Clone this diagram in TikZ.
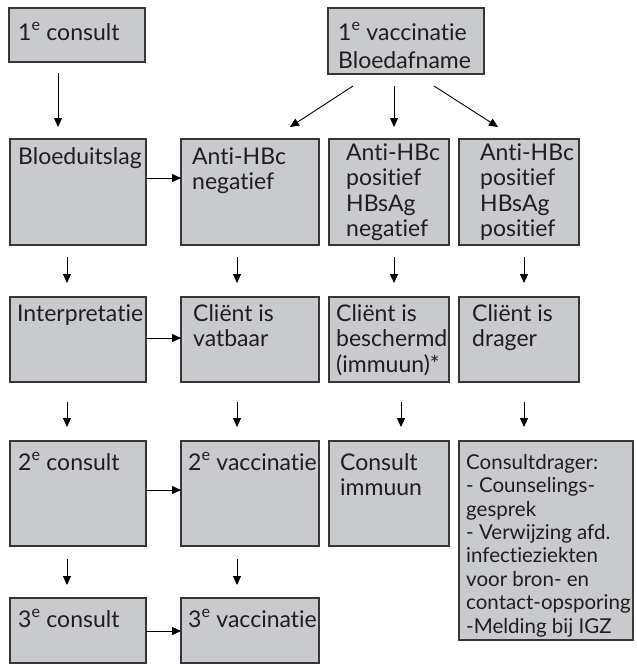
\documentclass[tikz,border=0pt]{standalone}
\usepackage{fontspec}
\setmainfont{Lato}[Ligatures={NoCommon,NoRare,NoContextual}]
\usetikzlibrary{arrows.meta,calc}
\definecolor{boxfill}{RGB}{200,202,206}
\definecolor{boxline}{RGB}{55,55,55}
\definecolor{txt}{RGB}{30,30,30}
\begin{document}
\begin{tikzpicture}[x=1pt,y=-1pt,
  box/.style={draw=boxline, fill=boxfill, line width=1.1pt, inner sep=0pt, outer sep=0pt, anchor=north west},
  lbl/.style={anchor=base west, inner sep=0pt, align=left, text=txt, font=\fontsize{23}{25.5}\selectfont},
  lbltop/.style={lbl, font=\fontsize{23}{28}\selectfont},
  lblsmall/.style={lbl, font=\fontsize{20.5}{23.4}\selectfont},
  arr/.style={-{Triangle[length=9pt,width=8pt]}, line width=0.9pt, black}]
\useasboundingbox (0,0) rectangle (637,664);

% boxes
\node[box, minimum width=136pt, minimum height=54pt]  (c1) at (9,8) {};
\node[box, minimum width=156pt, minimum height=66pt]  (v1) at (328,8) {};
\node[box, minimum width=136pt, minimum height=106pt] (b1) at (10,139) {};
\node[box, minimum width=138pt, minimum height=106pt] (b2) at (181,139) {};
\node[box, minimum width=120pt, minimum height=106pt] (b3) at (329,139) {};
\node[box, minimum width=120pt, minimum height=106pt] (b4) at (459,139) {};
\node[box, minimum width=136pt, minimum height=85pt]  (i1) at (10,297) {};
\node[box, minimum width=138pt, minimum height=85pt]  (i2) at (181,297) {};
\node[box, minimum width=120pt, minimum height=85pt]  (i3) at (329,297) {};
\node[box, minimum width=120pt, minimum height=85pt]  (i4) at (459,297) {};
\node[box, minimum width=136pt, minimum height=105pt] (k1) at (10,441) {};
\node[box, minimum width=138pt, minimum height=105pt] (k2) at (181,441) {};
\node[box, minimum width=120pt, minimum height=105pt] (k3) at (329,441) {};
\node[box, minimum width=174pt, minimum height=199pt] (k4) at (459,441) {};
\node[box, minimum width=136pt, minimum height=65pt]  (m1) at (10,598) {};
\node[box, minimum width=138pt, minimum height=65pt]  (m2) at (181,598) {};

% texts (anchored at the baseline of their last line)
\node[lbl] (tc1) at (18,40) {1\textsuperscript{e} consult};
\node[lbltop] (tv1) at (338,68) {1\textsuperscript{e} vaccinatie\\Bloedafname};
\node[lbl] (tb1) at (18,164) {Bloeduitslag};
\node[lbl] (tb2) at (192,189.5) {Anti-HBc\\negatief};
\node[lbl] (tb3) at (346,236.5) {Anti-HBc\\positief\\HBsAg\\negatief};
\node[lbl] (tb4) at (480,236.5) {Anti-HBc\\positief\\HBsAg\\positief};
\node[lbl] (ti1) at (17,321) {Interpretatie};
\node[lbl] (ti2) at (193,346.5) {Cliënt is\\vatbaar};
\node[lbl] (ti3) at (336,372) {Cliënt is\\beschermd\\(immuun)*};
\node[lbl] (ti4) at (472,346.5) {Cliënt is\\drager};
\node[lbl] (tk1) at (18,470) {2\textsuperscript{e} consult};
\node[lbl] (tk2) at (188,470) {2\textsuperscript{e} vaccinatie};
\node[lbl] (tk3) at (340,495.5) {Consult\\immuun};
\node[lblsmall] (tk4) at (466,633) {Consultdrager:\\- Counselings-\\gesprek\\- Verwijzing afd.\\infectieziekten\\voor bron- en\\contact-opsporing\\-Melding bij IGZ};
\node[lbl] (tm1) at (18,627) {3\textsuperscript{e} consult};
\node[lbl] (tm2) at (188,627) {3\textsuperscript{e} vaccinatie};

% guide coordinates
\coordinate (xa) at (58,0);
\coordinate (x1) at (67,0);
\coordinate (x2) at (237,0);
\coordinate (x3) at (394,0);
\coordinate (x3b) at (401,0);
\coordinate (x4) at (524,0);
\coordinate (h1) at (0,178);
\coordinate (h2) at (0,338);
\coordinate (h3) at (0,490);
\coordinate (h4) at (0,631);

% vertical arrows
\draw[arr, shorten <=11pt, shorten >=12pt] (c1.south -| xa) -- (b1.north -| xa);
\draw[arr, shorten <=12pt, shorten >=12pt] (v1.south -| x3) -- (b3.north -| x3);
\draw[arr] ($(v1.south)+(-53,12)$) -- ($(b2.north east)+(-29,-12)$);
\draw[arr] ($(v1.south)+(28,12)$) -- ($(b4.north west)+(39,-12)$);

\draw[arr, shorten <=12pt, shorten >=14pt] (b1.south -| x1) -- (i1.north -| x1);
\draw[arr, shorten <=12pt, shorten >=14pt] (b2.south -| x2) -- (i2.north -| x2);
\draw[arr, shorten <=12pt, shorten >=14pt] (b3.south -| x3) -- (i3.north -| x3);
\draw[arr, shorten <=12pt, shorten >=14pt] (b4.south -| x4) -- (i4.north -| x4);

\draw[arr, shorten <=20pt, shorten >=14pt] (i1.south -| x1) -- (k1.north -| x1);
\draw[arr, shorten <=20pt, shorten >=14pt] (i2.south -| x2) -- (k2.north -| x2);
\draw[arr, shorten <=20pt, shorten >=14pt] (i3.south -| x3b) -- (k3.north -| x3b);
\draw[arr, shorten <=20pt, shorten >=14pt] (i4.south -| x4) -- (k4.north -| x4);

\draw[arr, shorten <=13pt, shorten >=13pt] (k1.south -| x1) -- (m1.north -| x1);
\draw[arr, shorten <=13pt, shorten >=13pt] (k2.south -| x2) -- (m2.north -| x2);

% horizontal arrows
\draw[arr] (b1.east |- h1) -- (b2.west |- h1);
\draw[arr] (i1.east |- h2) -- (i2.west |- h2);
\draw[arr] (k1.east |- h3) -- (k2.west |- h3);
\draw[arr] (m1.east |- h4) -- (m2.west |- h4);
\end{tikzpicture}
\end{document}
